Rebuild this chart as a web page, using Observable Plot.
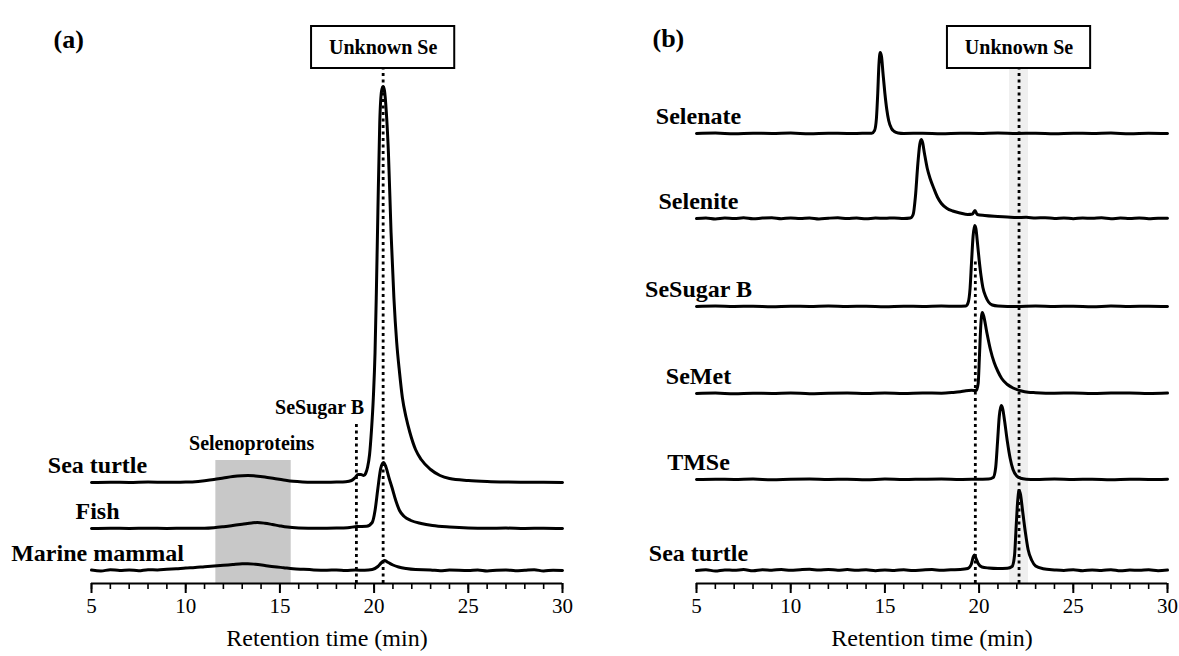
<!DOCTYPE html>
<html><head><meta charset="utf-8">
<script src="https://cdn.jsdelivr.net/npm/d3@7"></script>
<script src="https://cdn.jsdelivr.net/npm/@observablehq/plot@0.6"></script>
<style>
html,body{margin:0;padding:0;background:#fff;}
#wrap{display:flex;width:1179px;height:656px;overflow:hidden;}
svg{display:block}
</style></head><body><div id="wrap"></div>
<script>
// ---------- DATA ----------
const xDomain = [5, 30];
const xTickLabels = [5, 10, 15, 20, 25, 30];
const minorTicks = d3.range(5, 31, 1);

// Panel (a)
const panelANames = ["Sea turtle", "Fish", "Marine mammal"];
const panelAOffsets = [101, 55, 13];
const seaTurtleA = [[5,0],[6,0.3],[7,0],[8,0.4],[9,0.2],[10,0.5],[10.5,0.8],[11,1.8],[11.5,3],[12,4.5],[12.5,6],[13,6.8],[13.3,7],[13.7,6.5],[14.2,5.5],[14.7,4],[15.2,2.5],[15.7,1.2],[16.2,0.6],[17,0.3],[17.5,0.2],[18,0.4],[18.5,0.8],[18.8,2],[19.0,5],[19.15,8],[19.3,8],[19.45,7],[19.55,9],[19.65,15],[19.76,28],[19.86,52],[19.96,85],[20.05,130],[20.12,190],[20.2,270],[20.3,360],[20.4,392],[20.48,396],[20.55,392],[20.65,370],[20.76,330],[20.9,250],[21.05,185],[21.2,140],[21.35,110],[21.5,85],[21.7,65],[21.9,50],[22.2,33],[22.5,23],[23,13],[23.5,7],[24,4],[25,2],[26,1],[27,0.5],[28,0.3],[29,0.2],[30,0]];
const fishA = [[5,0],[6,0.3],[7,0],[8,0.3],[9,0],[10,0.3],[11,0.3],[11.5,0.8],[12,1.8],[12.5,3],[13,4.2],[13.5,5.5],[13.8,6],[14.2,5.3],[14.6,4],[15,2.6],[15.4,1.4],[16,0.6],[17,0.2],[18,0.4],[18.6,0.8],[19.1,2],[19.6,2.2],[19.9,6],[20.05,18],[20.2,40],[20.35,60],[20.5,66],[20.62,62],[20.8,50],[20.95,41],[21.15,28],[21.35,18],[21.6,12],[21.95,8],[22.5,5],[23.1,3],[24,1.5],[25,0.5],[26,0.2],[27,0.4],[28,0],[29,0.3],[30,0]];
const marineMammalA = [[5,0.5],[5.5,-0.5],[6,0.8],[6.5,0],[7,0.6],[7.5,-0.3],[8,0.8],[8.5,0.5],[9,1.2],[9.5,1.8],[10,2.5],[10.5,3],[11,3.8],[11.5,4.5],[12,5.2],[12.5,6],[13,6.7],[13.3,6.8],[13.7,6.2],[14.2,5],[14.7,3.8],[15.2,2.8],[15.7,1.8],[16.2,1.2],[16.8,0.6],[17.5,0.3],[18,0.5],[18.5,0],[19,0.4],[19.5,0.3],[19.9,1],[20.2,4],[20.4,8],[20.55,10],[20.75,8],[21,5.5],[21.3,3.5],[21.7,2],[22.2,1],[23,0.6],[23.5,-0.3],[24,0.5],[25,0],[25.5,0.6],[26,-0.4],[26.5,0.3],[27,0.6],[27.5,-0.3],[28,0.2],[28.5,0.7],[29,-0.5],[29.5,0.3],[30,0]];
const panelASeries = [seaTurtleA, fishA, marineMammalA];
const selenoproteinRange = [11.6, 15.6];
const panelAMarkers = [{label: "SeSugar B", t: 19.06}, {label: "Unknown Se", t: 20.48}];

// Panel (b)
const panelBNames = ["Selenate", "Selenite", "SeSugar B", "SeMet", "TMSe", "Sea turtle"];
const panelBOffsets = [450, 365, 277, 190, 104, 13];
const selenate = [[5,0],[6,0.4],[7,-0.3],[8,0.3],[9,0],[10,0.4],[11,-0.2],[12,0.3],[13,0],[13.8,0.2],[14.3,0.3],[14.45,3],[14.55,15],[14.62,40],[14.68,68],[14.75,81],[14.82,77],[14.9,60],[15.0,40],[15.1,24],[15.2,13],[15.35,5],[15.5,2],[15.7,0.5],[16,0],[17,0.3],[18,-0.2],[19,0.3],[20,0],[21,0.4],[22,0],[23,0.3],[24,-0.3],[25,0.3],[26,0],[27,0.4],[28,-0.2],[29,0.3],[30,0]];
const selenite = [[5,0],[5.5,0.6],[6,-0.4],[6.5,0.5],[7,0],[7.5,0.7],[8,-0.3],[8.5,0.4],[9,0.8],[9.5,-0.2],[10,0.5],[10.5,0],[11,0.6],[11.5,-0.4],[12,0.3],[12.5,0.7],[13,0],[13.5,0.5],[14,-0.3],[14.5,0.4],[15,0.2],[15.5,0.6],[16,0],[16.35,0.5],[16.5,4],[16.62,22],[16.75,55],[16.85,74],[16.93,79],[17.0,76],[17.1,65],[17.25,50],[17.4,40],[17.6,30],[17.8,21],[18.0,15],[18.3,10],[18.6,7.5],[19.0,5.5],[19.4,4],[19.65,4.5],[19.78,8],[19.9,4],[20.3,3],[20.8,2.2],[21.5,1.5],[22,1],[22.5,1.2],[23,0.5],[23.5,0.8],[24,0],[24.5,0.6],[25,-0.2],[25.5,0.5],[26,0.2],[26.5,0.7],[27,-0.2],[27.5,0.4],[28,0],[28.5,0.6],[29,-0.3],[29.5,0.3],[30,0.2]];
const seSugarB = [[5,0],[6,0.4],[7,0],[8,0.3],[9,-0.2],[10,0.3],[11,0],[12,0.4],[13,0],[14,0.3],[15,-0.2],[16,0.3],[17,0],[18,0.4],[18.8,0.3],[19.3,0.6],[19.42,4],[19.52,18],[19.6,45],[19.68,70],[19.76,81],[19.83,78],[19.9,66],[20.0,47],[20.1,31],[20.2,19],[20.35,10],[20.5,4.5],[20.7,1.5],[21,0.5],[22,0],[23,0.4],[24,0],[25,0.3],[26,-0.2],[27,0.4],[28,0],[29,0.3],[30,0]];
const seMet = [[5,0],[6,0.4],[7,-0.2],[8,0.3],[9,0],[10,0.5],[11,-0.2],[12,0.3],[13,0.5],[14,0],[15,0.4],[16,0],[17,0.5],[18,0.3],[18.6,1],[19.0,1.8],[19.3,2.8],[19.6,3.2],[19.85,3],[19.95,10],[20.02,38],[20.09,68],[20.17,81],[20.25,77],[20.4,62],[20.6,44],[20.8,31],[21.0,22],[21.2,15],[21.5,9],[21.8,5.5],[22.2,2.8],[22.6,1.2],[23,0.8],[24,0.3],[25,0.5],[26,0],[27,0.4],[28,0.6],[29,0],[30,0.4]];
const tmse = [[5,0],[6,0.3],[7,0],[8,0.4],[9,-0.2],[10,0.3],[11,0.5],[12,0],[13,0.3],[14,-0.2],[15,0.4],[16,0],[17,0.3],[18,0.5],[19,0],[20,0.3],[20.5,0.4],[20.75,2],[20.88,12],[20.98,38],[21.07,63],[21.17,74],[21.25,71],[21.35,59],[21.5,38],[21.65,21],[21.8,10],[22.0,3.5],[22.2,1.2],[22.5,0.3],[23,0],[24,0.4],[25,0],[26,0.3],[27,-0.2],[28,0.3],[29,0],[30,0.3]];
const seaTurtleB = [[5,0],[5.5,0.8],[6,-0.5],[6.5,0.6],[7,0.2],[7.5,0.9],[8,-0.3],[8.5,0.7],[9,0.3],[9.5,1],[10,0.2],[10.5,0.8],[11,1.2],[11.5,0.4],[12,1],[12.5,0.3],[13,0.9],[13.5,0.2],[14,0.7],[14.5,-0.2],[15,0.6],[15.5,0.1],[16,0.7],[16.5,0],[17,0.5],[17.5,0.9],[18,0.2],[18.5,0.7],[19,1],[19.4,2],[19.58,6],[19.7,14],[19.76,15.5],[19.84,12],[19.95,7],[20.15,3.5],[20.5,2.5],[21,2],[21.5,2.3],[21.75,4],[21.88,15],[21.97,45],[22.05,70],[22.12,80],[22.2,76],[22.3,61],[22.45,39],[22.6,21],[22.8,10],[23.0,4.5],[23.4,1.8],[24,0.6],[24.5,0],[25,0.8],[25.5,-0.2],[26,0.6],[26.5,0.1],[27,0.8],[27.5,-0.3],[28,0.5],[28.5,0.2],[29,0.7],[29.5,-0.2],[30,0.4]];
const panelBSeries = [selenate, selenite, seSugarB, seMet, tmse, seaTurtleB];
const panelBMarkers = [{label: "SeSugar B", t: 19.8}, {label: "Unknown Se", t: 22.12}];

// ---------- BUILD ----------
const SERIF = "'Liberation Serif','Times New Roman',Times,serif";
function rowsOf(names, offsets, series) {
  const rows = [];
  names.forEach((name, i) => series[i].forEach(([t, v]) => rows.push({name, t, v: offsets[i] + v})));
  return rows;
}
function labelsOf(names, offsets) {
  return names.map((name, i) => ({name, base: offsets[i]}));
}
const Y_TOP = 583;          // y units (one unit per pixel above the axis)
const BOX_Y1 = 515, BOX_Y2 = 557, BOX_HALF = 3.8;

function axisMarks() {
  return [
    Plot.ruleY([{y: 0}], {y: "y", x1: () => xDomain[0], x2: () => xDomain[1], strokeWidth: 2.2}),
    Plot.ruleX(minorTicks, {x: d => d, y1: () => 0, y2: () => -6, strokeWidth: 1.6}),
    Plot.axisX({ticks: xTickLabels, tickSize: 10, tickPadding: 5, fontSize: 21, strokeWidth: 2, label: null, tickFormat: d => String(d)}),
    Plot.text(["Retention time (min)"], {frameAnchor: "bottom", dy: 62, fontSize: 24})
  ];
}

function unknownBox(marker) {
  return [
    Plot.rect([marker], {x1: d => d.t - BOX_HALF, x2: d => d.t + BOX_HALF, y1: () => BOX_Y1, y2: () => BOX_Y2, fill: "white", stroke: "black", strokeWidth: 2}),
    Plot.text([marker], {x: "t", y: () => (BOX_Y1 + BOX_Y2) / 2, text: "label", fontSize: 20, fontWeight: "bold"})
  ];
}

// Panel (a)
const rowsA = rowsOf(panelANames, panelAOffsets, panelASeries);
const plotA = Plot.plot({
  width: 590, height: 656,
  marginLeft: 91, marginRight: 28, marginTop: 0, marginBottom: 73,
  x: {domain: xDomain},
  y: {domain: [0, Y_TOP], axis: null},
  style: {fontFamily: SERIF, background: "white", color: "black", overflow: "visible"},
  marks: [
    Plot.rect([selenoproteinRange], {x1: d => d[0], x2: d => d[1], y1: () => 0, y2: () => 123, fill: "#c8c8c8"}),
    Plot.line(rowsA, {x: "t", y: "v", z: "name", stroke: "black", strokeWidth: 3, curve: "monotone-x", strokeLinejoin: "round"}),
    Plot.ruleX([panelAMarkers[0]], {x: "t", y1: () => 0, y2: () => 160, strokeWidth: 2.8, strokeDasharray: "3,3.5"}),
    Plot.ruleX([panelAMarkers[1]], {x: "t", y1: () => 0, y2: () => BOX_Y1, strokeWidth: 2.8, strokeDasharray: "3,3.5"}),
    ...unknownBox(panelAMarkers[1]),
    Plot.text(labelsOf(panelANames, panelAOffsets), {x: () => xDomain[0], y: d => d.base + 17, text: "name", dx: 6, fontSize: 24, fontWeight: "bold"}),
    Plot.text(["Selenoproteins"], {x: () => (selenoproteinRange[0] + selenoproteinRange[1]) / 2 - 0.1, y: () => 140, fontSize: 20, fontWeight: "bold"}),
    Plot.text([panelAMarkers[0]], {x: d => d.t - 1.95, y: () => 176, text: "label", fontSize: 20, fontWeight: "bold"}),
    Plot.text(["(a)"], {frameAnchor: "top-left", dx: -38, dy: 29, fontSize: 26, fontWeight: "bold"}),
    ...axisMarks()
  ]
});

// Panel (b)
const rowsB = rowsOf(panelBNames, panelBOffsets, panelBSeries);
const plotB = Plot.plot({
  width: 589, height: 656,
  marginLeft: 106, marginRight: 12, marginTop: 0, marginBottom: 73,
  x: {domain: xDomain},
  y: {domain: [0, Y_TOP], axis: null},
  style: {fontFamily: SERIF, background: "white", color: "black", overflow: "visible"},
  marks: [
    Plot.rect([panelBMarkers[1]], {x1: d => d.t - 0.5, x2: d => d.t + 0.5, y1: () => 0, y2: () => BOX_Y1, fill: "#efefef"}),
    Plot.line(rowsB, {x: "t", y: "v", z: "name", stroke: "black", strokeWidth: 3, curve: "monotone-x", strokeLinejoin: "round"}),
    Plot.ruleX([panelBMarkers[0]], {x: "t", y1: () => 0, y2: () => 324, strokeWidth: 2.8, strokeDasharray: "3,3.5"}),
    Plot.ruleX([panelBMarkers[1]], {x: "t", y1: () => 0, y2: () => BOX_Y1, strokeWidth: 2.8, strokeDasharray: "3,3.5"}),
    ...unknownBox(panelBMarkers[1]),
    Plot.text(labelsOf(panelBNames, panelBOffsets), {x: () => xDomain[0], y: d => d.base + 17.5, text: "name", dx: 2, fontSize: 24, fontWeight: "bold"}),
    Plot.text(["(b)"], {frameAnchor: "top-left", dx: -44, dy: 28, fontSize: 26, fontWeight: "bold"}),
    ...axisMarks()
  ]
});

const wrap = document.getElementById("wrap");
wrap.appendChild(plotA);
wrap.appendChild(plotB);
</script>
</body></html>
